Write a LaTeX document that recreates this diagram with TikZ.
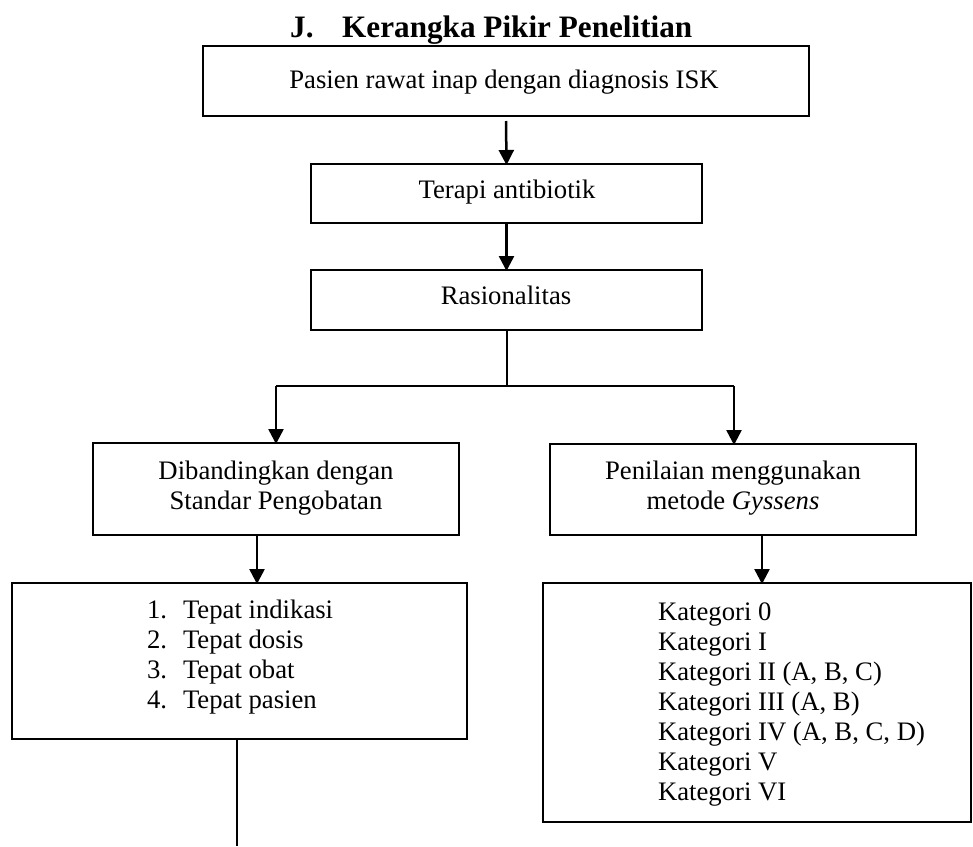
\documentclass[tikz,border=0pt]{standalone}
\usepackage{fontspec}
\setmainfont{Liberation Serif}
\usetikzlibrary{arrows.meta,calc}
\tikzset{
  box/.style={draw=black, line width=2pt, rectangle, inner sep=0pt, outer sep=0pt},
  txt/.style={inner sep=0pt, outer sep=0pt, anchor=base, font=\fontsize{26.7}{30}\selectfont},
  txtl/.style={txt, anchor=base west},
  conn/.style={line width=2pt},
  arr/.style={line width=2.5pt, -{Triangle[width=15pt,length=15pt]}, shorten >=-1pt},
}
\begin{document}
\begin{tikzpicture}[x=1pt,y=-1pt]
\useasboundingbox (0,0) rectangle (973,846);
% title
\node[inner sep=0pt, anchor=base west, font=\fontsize{31.2}{36}\selectfont\bfseries] (title) at (290,37) {J.\hspace{28.6pt}Kerangka Pikir Penelitian};
% boxes
\node[box, minimum width=606pt, minimum height=70pt] (b1) at (506,81) {};
\node[box, minimum width=391pt, minimum height=59pt] (b2) at (506.5,193.5) {};
\node[box, minimum width=391pt, minimum height=60pt] (b3) at (506.5,300) {};
\node[box, minimum width=366pt, minimum height=92pt] (b4) at (276,489) {};
\node[box, minimum width=366pt, minimum height=91pt] (b5) at (733,489.5) {};
\node[box, minimum width=455pt, minimum height=156pt] (b6) at (239.5,661) {};
\node[box, minimum width=428pt, minimum height=239pt] (b7) at (757,702.5) {};
% texts
\node[txt] (t1) at (504,88) {Pasien rawat inap dengan diagnosis ISK};
\node[txt] (t2) at (507,198) {Terapi antibiotik};
\node[txt] (t3) at (506,304) {Rasionalitas};
\node[txt] (t4a) at (276,479) {Dibandingkan dengan};
\node[txt] (t4b) at (276,509) {Standar Pengobatan};
\node[txt] (t5a) at (733,479) {Penilaian menggunakan};
\node[txt] (t5b) at (733,509) {metode \textit{Gyssens}};
\foreach \n/\t [count=\i from 0] in {1./Tepat indikasi, 2./Tepat dosis, 3./Tepat obat, 4./Tepat pasien}{
  \node[txtl] (n\i) at (147,618+30*\i) {\n};
  \node[txtl] (l\i) at (183,618+30*\i) {\t};
}
\foreach \t [count=\i from 0] in {Kategori 0, Kategori I, {Kategori II (A, B, C)}, {Kategori III (A, B)}, {Kategori IV (A, B, C, D)}, Kategori V, Kategori VI}{
  \node[txtl] (k\i) at (658,620+30*\i) {\t};
}
% connectors
\coordinate (jm) at (506.5,386);
\coordinate (jl) at (276,386);
\coordinate (jr) at (734,386);
\coordinate (endl) at (237,846);
\draw[arr] ($(b1.south)+(0,5)$) -- (b2.north);
\draw[arr] (b2.south) -- (b3.north);
\draw[conn] (b3.south) -- (jm);
\draw[conn] (jl) -- (jr);
\draw[arr] (jl) -- (jl |- b4.north);
\draw[arr] (jr) -- (jr |- b5.north);
\draw[arr] ([xshift=-19pt]b4.south) -- ([xshift=-19pt]b4.south |- b6.north);
\draw[arr] ([xshift=29pt]b5.south) -- ([xshift=29pt]b5.south |- b7.north);
\draw[conn] (b6.south -| endl) -- (endl);
\end{tikzpicture}
\end{document}
